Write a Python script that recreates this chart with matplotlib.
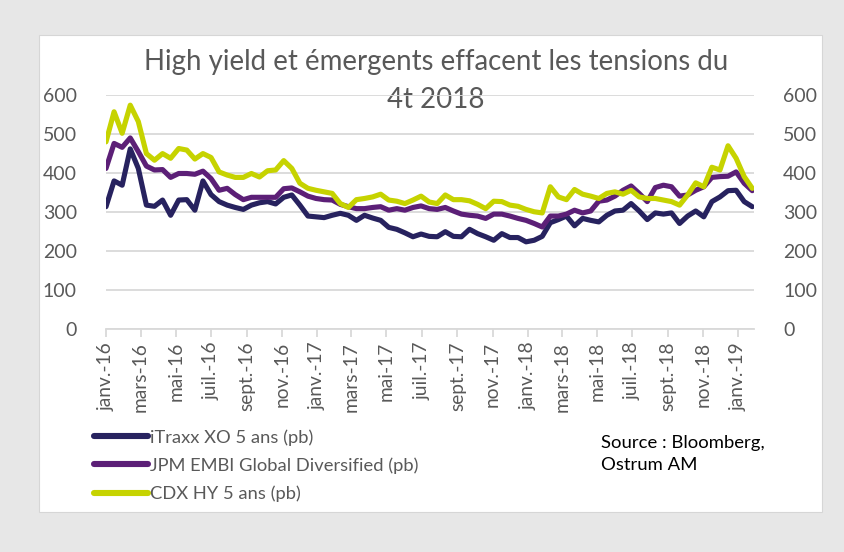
import matplotlib
matplotlib.use("Agg")
import matplotlib.pyplot as plt
from matplotlib.patches import Rectangle
import pandas as pd

# ---------------- data ----------------
start_date = "2016-01-01"
n_points = 81  # bi-weekly observations

itraxx = [314, 380, 369, 462, 412, 318, 315, 331, 292, 331, 332, 305, 380, 345, 327, 318, 312,
          307, 318, 324, 327, 321, 338, 344, 318, 290, 288, 286, 292, 297, 292, 279,
          292, 285, 279, 261, 256, 247, 237, 244, 238, 237, 250, 238, 237, 256, 245, 237,
          228, 245, 235, 235, 224, 228, 238, 273, 281, 290, 265, 284, 279, 275, 292, 303,
          305, 322, 303, 281, 298, 295, 298, 271, 290, 303, 288, 327, 339, 355, 356, 327, 314]

embi = [412, 476, 466, 490, 455, 418, 408, 409, 389, 399, 399, 397, 405, 386, 356, 361, 345,
        332, 338, 338, 338, 338, 360, 362, 352, 341, 335, 332, 331, 320, 314, 309,
        309, 312, 314, 305, 309, 305, 312, 316, 309, 307, 312, 303, 295, 292, 290, 284,
        295, 295, 290, 284, 279, 271, 262, 290, 290, 295, 305, 298, 303, 328, 331, 341,
        356, 367, 348, 327, 363, 369, 365, 341, 344, 356, 365, 389, 391, 392, 403, 374, 355]

cdx = [480, 557, 502, 574, 532, 450, 433, 450, 438, 463, 459, 436, 450, 440, 403, 395, 389,
       389, 399, 390, 406, 408, 432, 412, 374, 361, 356, 352, 348, 322, 312, 332,
       335, 339, 346, 331, 328, 322, 331, 341, 326, 322, 344, 332, 332, 329, 320, 309,
       328, 327, 318, 315, 307, 301, 298, 365, 339, 332, 358, 346, 341, 335, 348, 352,
       346, 356, 339, 335, 335, 331, 327, 318, 344, 375, 365, 415, 408, 470, 438, 391, 361]

series_labels = ["iTraxx XO 5 ans (pb)", "JPM EMBI Global Diversified (pb)", "CDX HY 5 ans (pb)"]
series_colors = ["#27225f", "#5c1f77", "#c6d300"]

tick_labels = ["janv.-16", "mars-16", "mai-16", "juil.-16", "sept.-16", "nov.-16",
               "janv.-17", "mars-17", "mai-17", "juil.-17", "sept.-17", "nov.-17",
               "janv.-18", "mars-18", "mai-18", "juil.-18", "sept.-18", "nov.-18",
               "janv.-19"]
yticks = [0, 100, 200, 300, 400, 500, 600]

title = "High yield et émergents effacent les tensions du\n4t 2018"
source = "Source : Bloomberg,\nOstrum AM"

dates = pd.date_range(start_date, periods=n_points, freq="14D")
tick_dates = pd.date_range(start_date, periods=len(tick_labels), freq="2MS")

# ---------------- figure ----------------
W, H = 844, 552
FONT = "Lato"
TXT = "#595959"
GRID = "#d9d9d9"

fig = plt.figure(figsize=(W / 100, H / 100), dpi=100, facecolor="#e7e7e7")
fig.patches.append(Rectangle((39 / W, 1 - 512 / H), (822 - 39) / W, (512 - 35) / H,
                             transform=fig.transFigure, facecolor="white",
                             edgecolor="#d6d6d6", lw=0.8, zorder=-10))

ax = fig.add_axes([106 / W, 1 - 329.3 / H, (754 - 106) / W, (329.3 - 95) / H])
ax.set_facecolor("none")
ax.set_zorder(5)

lines = []
for vals, lab, col in zip([itraxx, embi, cdx], series_labels, series_colors):
    ln, = ax.plot(dates, vals, color=col, lw=3.7, label=lab,
                  solid_joinstyle="round", solid_capstyle="round")
    lines.append(ln)

ax.set_ylim(0, 600)
ax.set_xlim(dates[0], dates[-1] + pd.Timedelta(days=3))
ax.set_yticks(yticks)
ax.set_yticklabels([str(v) for v in yticks])
ax.set_xticks(tick_dates)
ax.set_xticklabels(tick_labels)

ax.grid(axis="y", color=GRID, lw=1.3)
ax.set_axisbelow(True)
for s in ["top", "left", "right"]:
    ax.spines[s].set_visible(False)
ax.spines["bottom"].set_color(GRID)
ax.spines["bottom"].set_linewidth(1.3)

ax.tick_params(axis="y", length=0, pad=21, labelsize=14, labelcolor=TXT,
               labelleft=True, labelright=True)
ax.tick_params(axis="x", direction="out", length=6, width=1.3, color=GRID,
               labelrotation=90, labelsize=13.8, labelcolor=TXT, pad=3)
for t in ax.xaxis.get_major_ticks() + ax.yaxis.get_major_ticks():
    t.label1.set_fontfamily(FONT)
    t.label2.set_fontfamily(FONT)

fig.text(436 / W, 1 - 81 / H, title, ha="center", va="center", fontsize=19.9,
         color=TXT, family=FONT, linespacing=1.6)

leg_lines = [plt.Line2D([], [], color=c, lw=4.4, solid_capstyle="round") for c in series_colors]
fig.legend(handles=leg_lines, labels=series_labels, loc="upper left",
           bbox_to_anchor=(94 / W, 1 - 429 / H), frameon=False,
           prop={"family": FONT, "size": 13.2}, labelcolor=TXT,
           handlelength=2.95, handletextpad=0.1, labelspacing=0.64,
           borderaxespad=0, borderpad=0)

fig.text(601 / W, 1 - 454 / H, source, ha="left", va="center", fontsize=13.3,
         color="black", family=FONT, linespacing=1.45)

fig.savefig("out.png", dpi=100, facecolor=fig.get_facecolor())
